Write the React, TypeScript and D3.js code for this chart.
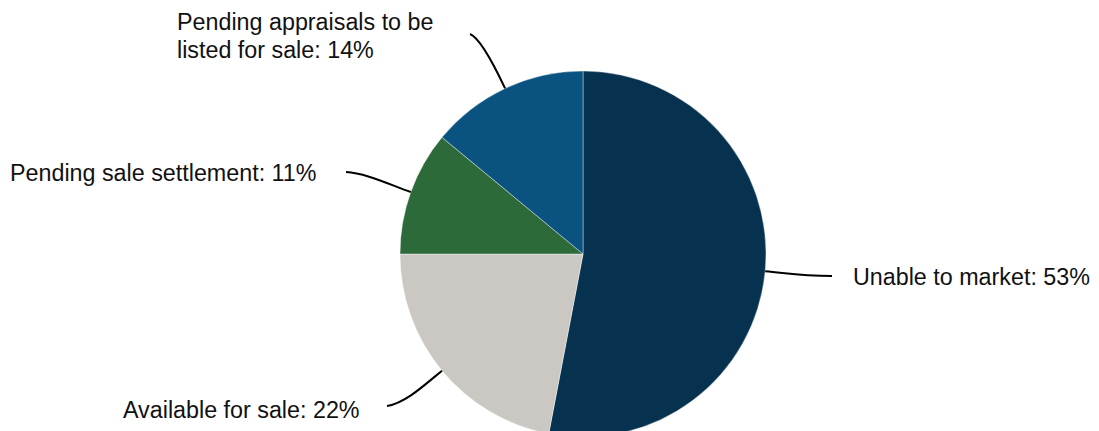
import React from "react";
import * as d3 from "d3";

const categories = [
  "Unable to market",
  "Available for sale",
  "Pending sale settlement",
  "Pending appraisals to be listed for sale",
];
const values = [53, 22, 11, 14];
const labelLines = [
  ["Unable to market: 53%"],
  ["Available for sale: 22%"],
  ["Pending sale settlement: 11%"],
  ["Pending appraisals to be", "listed for sale: 14%"],
];
const colors = ["#07324f", "#cbc8c4", "#2d6a39", "#0a5380"];

const W = 1099;
const H = 431;
const cx = 583;
const cy = 254;
const R = 183;

// label layout: end of leader, text anchor position
const layout = [
  { end: [832, 276], tx: 853, ty: 285, c2: [800, 276] },
  { end: [387, 406], tx: 123, ty: 418, c2: [405, 403] },
  { end: [346, 172], tx: 10, ty: 181, c2: [365, 173] },
  { end: [470, 34], tx: 177, ty: 30, c2: [480, 38] },
];

export default function App() {
  const pie = d3
    .pie<number>()
    .sort(null)
    .value((d) => d);
  const arcs = pie(values);
  const arc = d3.arc<d3.PieArcDatum<number>>().innerRadius(0).outerRadius(R);

  return (
    <svg
      width={W}
      height={H}
      style={{ position: "absolute", left: 0, top: 0, background: "#fff" }}
      fontFamily="Liberation Sans, Arial, sans-serif"
    >
      <g transform={`translate(${cx},${cy})`}>
        {arcs.map((a, i) => (
          <path key={categories[i]} d={arc(a) || ""} fill={colors[i]} stroke="#ffffff" strokeWidth={0.4} />
        ))}
      </g>
      {arcs.map((a, i) => {
        const mid = (a.startAngle + a.endAngle) / 2;
        const sx = cx + R * Math.sin(mid);
        const sy = cy - R * Math.cos(mid);
        const c1x = cx + (R + 25) * Math.sin(mid);
        const c1y = cy - (R + 25) * Math.cos(mid);
        const L = layout[i];
        const p = d3.path();
        p.moveTo(sx, sy);
        p.bezierCurveTo(c1x, c1y, L.c2[0], L.c2[1], L.end[0], L.end[1]);
        return (
          <path key={"l" + i} d={p.toString()} fill="none" stroke="#000" strokeWidth={2} />
        );
      })}
      {labelLines.map((lines, i) => (
        <text key={"t" + i} x={layout[i].tx} y={layout[i].ty} fontSize={23.3} fill="#111">
          {lines.map((ln, j) => (
            <tspan key={j} x={layout[i].tx} dy={j === 0 ? 0 : 28}>
              {ln}
            </tspan>
          ))}
        </text>
      ))}
    </svg>
  );
}
